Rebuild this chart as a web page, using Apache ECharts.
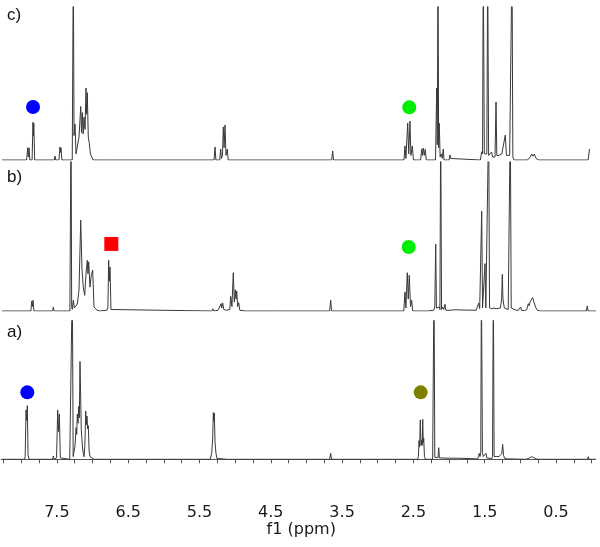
<!DOCTYPE html>
<html>
<head>
<meta charset="utf-8">
<title>1H NMR</title>
<script src="https://cdn.jsdelivr.net/npm/echarts@6/dist/echarts.min.js"></script>
<style>
html,body{margin:0;padding:0;background:#fff;}
#nmr-chart{width:600px;height:547px;}
</style>
</head>
<body>
<div id="nmr-chart"></div>
<script>
// traces: [ppm, intensity in % of panel height], >100 is clipped
var specC = [
    [8.27,0],[7.925,0],[7.910,8],[7.900,2],[7.891,8],[7.880,0],
    [7.848,0],[7.836,24.6],[7.830,16],[7.824,24],[7.812,0],
    [7.538,0],[7.527,2.6],[7.516,0],
    [7.472,0],[7.457,8.5],[7.450,5],[7.443,8],[7.430,0],
    [7.285,0],[7.270,130],[7.260,16],[7.246,23.5],[7.232,4],[7.214,3],[7.190,15],[7.166,35],[7.155,18],[7.143,31],[7.132,17],[7.120,28],[7.105,20],[7.092,47],[7.083,30],[7.074,44],[7.060,15],[7.046,11],[7.030,4],[7.012,2],[6.990,0],
    [6.770,0],[6.755,1],[6.740,0],
    [5.296,0],[5.282,8.5],[5.270,0],[5.216,0],[5.203,7.2],[5.192,1],[5.178,3],[5.166,21.6],[5.155,8],[5.142,22.9],[5.128,3],[5.110,7.2],[5.098,0],
    [3.646,0],[3.632,5.9],[3.620,0],
    [2.632,0],[2.618,9.2],[2.605,1],[2.592,2],[2.580,24.2],[2.565,4],[2.548,25.5],[2.535,3],[2.525,2],[2.515,9.2],[2.500,0],
    [2.398,0],[2.383,7.2],[2.372,3],[2.361,7.8],[2.347,3],[2.333,7],[2.320,0],
    [2.190,0],[2.173,47],[2.165,10],[2.155,130],[2.146,8],[2.137,24],[2.125,2],[2.109,4],[2.095,1],[2.081,7.2],[2.070,0],[2.000,0],[1.987,3.3],[1.975,1],[1.965,2],[1.950,0],
    [1.560,0],[1.542,5.4],[1.530,4],[1.520,130],[1.505,4],[1.482,4.6],[1.470,4],[1.458,130],[1.445,3],[1.420,2],[1.402,5.2],[1.390,2],[1.355,2],[1.341,37.9],[1.330,3],[1.300,3],[1.260,4],[1.235,4],[1.211,16.3],[1.195,3],[1.150,3],[1.117,130],[1.105,2],[1.090,0],
    [0.900,0],[0.860,2],[0.841,3.9],[0.822,2.5],[0.804,3.9],[0.780,1],[0.740,0],
    [0.050,0],[0.036,0.6],[0.030,7.2]
];
var specB = [
    [8.27,0],[7.865,0],[7.853,6.7],[7.845,3],[7.835,7.2],[7.822,0],
    [7.560,0],[7.550,2.7],[7.540,0],
    [7.318,0],[7.302,130],[7.293,3],[7.285,1],[7.270,7.2],[7.255,2],[7.214,4.7],[7.190,14],[7.166,61],[7.148,27.5],[7.130,16],[7.110,10.5],[7.092,25],[7.074,34],[7.064,25],[7.054,33],[7.036,16],[7.018,24],[6.998,27.5],[6.980,2.7],[6.942,0.7],[6.900,0],
    [6.800,0.5],[6.785,2],[6.774,34],[6.765,20],[6.755,29.5],[6.742,1],[6.720,0],
    [5.330,0],[5.313,1.5],[5.300,0],[5.240,0.5],[5.225,2],[5.212,1],[5.198,4.9],[5.188,2],[5.175,5.4],[5.160,1],[5.142,1.5],[5.125,0.5],[5.075,1],[5.062,9.8],[5.045,3],[5.026,25.7],[5.012,6],[4.998,14.3],[4.988,8],[4.978,13.4],[4.965,3],[4.950,5.6],[4.935,0.5],[4.920,0],
    [4.850,0],[4.838,0.8],[4.825,0],[4.470,0],[4.455,0.8],[4.440,0],[4.300,0],[4.287,0.8],[4.275,0],
    [3.675,0],[3.660,7.2],[3.648,0],
    [2.635,0],[2.618,12.8],[2.605,2],[2.586,25.7],[2.572,8],[2.558,24],[2.540,3],[2.524,7.2],[2.510,0],
    [2.395,0],[2.380,0.7],[2.365,0],[2.335,0],[2.320,0.7],[2.305,0],
    [2.215,0.5],[2.200,2.7],[2.187,44.8],[2.177,2],[2.165,1.5],[2.150,1.5],[2.137,2.7],[2.128,1],[2.117,130],[2.105,1],[2.089,2.7],[2.075,1],[2.057,4.5],[2.045,0.5],[1.970,0.5],[1.940,0.8],[1.890,0.8],[1.776,0.6],[1.620,0.5],
    [1.600,1],[1.584,5.4],[1.570,1.5],[1.555,2],[1.542,67],[1.530,2],[1.520,1.6],[1.508,2],[1.496,31.8],[1.484,2],[1.472,1.6],[1.458,2],[1.444,130],[1.432,2],[1.416,2.7],[1.400,1.5],[1.370,2],[1.356,2.7],[1.340,1.5],[1.318,1.6],[1.280,2],[1.262,8],[1.253,24.6],[1.244,8],[1.225,2],[1.170,1],[1.155,2],[1.141,130],[1.128,2],[1.107,1.5],[1.060,0.5],[1.028,0.5],[1.005,1],[0.995,2.7],[0.985,0.5],
    [0.940,0.3],[0.910,1],[0.888,4.9],[0.875,3.5],[0.865,6],[0.850,5],[0.827,9],[0.810,6],[0.795,4.9],[0.780,2],[0.762,0.5],[0.720,0],
    [0.075,0],[0.061,3.4],[0.050,0],[-0.07,0]
];
var specA = [
    [8.27,0],[7.955,0],[7.945,2],[7.933,35.6],[7.925,28],[7.915,38.7],[7.905,3],[7.890,0],
    [7.560,0],[7.550,2.4],[7.535,0],[7.505,1],[7.489,35.6],[7.478,20],[7.466,32.7],[7.452,1],[7.440,0],
    [7.320,0],[7.305,1],[7.284,130],[7.272,2],[7.260,2],[7.245,10],[7.232,22.8],[7.222,18],[7.214,32.7],[7.204,26],[7.194,38.2],[7.185,30],[7.176,70.5],[7.158,21],[7.138,6.7],[7.120,1.9],[7.108,10],[7.096,34.9],[7.087,25],[7.078,31.2],[7.069,22],[7.060,24.3],[7.048,6],[7.036,1.9],[7.012,0.5],[6.980,0],
    [6.840,0],[6.825,1.2],[6.810,0],
    [5.350,0],[5.340,1],[5.329,4.3],[5.315,15],[5.306,33.7],[5.299,28],[5.292,33.2],[5.282,12],[5.269,4.3],[5.255,0.5],[5.225,0.5],[5.212,1.9],[5.200,0],[5.115,0],[5.105,1.2],[5.095,0],
    [3.675,0],[3.660,4.3],[3.648,0],
    [2.440,0],[2.430,2],[2.421,13.5],[2.413,9],[2.403,28.4],[2.393,10],[2.383,14],[2.376,10],[2.369,28.9],[2.362,12],[2.355,15.2],[2.345,2],[2.330,0],
    [2.230,0],[2.221,1],[2.211,130],[2.200,1.5],[2.180,0.7],[2.155,1],[2.145,8.4],[2.135,1],[2.120,0.3],[2.000,0.8],[1.857,0.8],
    [1.600,0.3],[1.585,2],[1.576,4.3],[1.566,2],[1.555,5],[1.546,130],[1.540,130],[1.532,5],[1.520,2],[1.510,2],[1.495,2],[1.482,4.3],[1.470,1],[1.458,0.7],[1.400,0.5],[1.390,2],[1.379,130],[1.368,2],[1.350,0.7],[1.330,2],[1.300,2],[1.260,4],[1.248,10.8],[1.236,3],[1.220,0.7],[1.180,0.3],
    [0.920,0],[0.880,0.8],[0.860,1.5],[0.841,1.9],[0.820,1.2],[0.780,0.3],[0.740,0],
    [0.060,0],[0.047,1.9],[0.035,0],[-0.07,0]
];

// annotation markers, same units as the traces
var blueDots = [[7.835,34.6]];
var greenDotsC = [[2.558,34.4]];
var redSquares = [[6.737,45]];
var greenDotsB = [[2.566,43]];
var blueDotsA = [[7.915,48.3]];
var oliveDots = [[2.398,48.3]];

var panelNames = ['c)','b)','a)'];
var labelValues = [7.5,6.5,5.5,4.5,3.5,2.5,1.5,0.5];
var tickValues = [];
for (var t = 0; t <= 33; t++) tickValues.push(t * 0.25);

var panels = [
    {top:7, height:153},
    {top:162, height:149},
    {top:320.7, height:138.6}
];
var lineColor = '#383838';

var grids = [], xAxes = [], yAxes = [];
panels.forEach(function(p, i){
    grids.push({left:1.3, right:4.8, top:p.top, height:p.height});
    var last = i === panels.length - 1;
    xAxes.push({
        gridIndex:i,
        type:'value',
        inverse:true,
        min:-0.05,
        max:8.28,
        show:last,
        offset:last ? 33.4 : 0,
        name:last ? 'f1 (ppm)' : '',
        nameLocation:'middle',
        nameGap:28,
        nameTextStyle:{fontFamily:'DejaVu Sans', fontSize:16, color:'#1a1a1a', padding:[0,0,0,6]},
        axisLine:{lineStyle:{color:'#555', width:1}},
        axisTick:{show:true, length:4, lineStyle:{color:'#555'}, customValues:tickValues},
        axisLabel:{
            customValues:labelValues,
            margin:12,
            fontFamily:'DejaVu Sans',
            fontSize:16,
            color:'#1a1a1a',
            formatter:function(v){ return v.toFixed(1); }
        },
        splitLine:{show:false}
    });
    yAxes.push({gridIndex:i, type:'value', min:0, max:100, show:false});
});

function trace(data, i){
    return {
        type:'line',
        xAxisIndex:i,
        yAxisIndex:i,
        data:data,
        showSymbol:false,
        silent:true,
        lineStyle:{color:lineColor, width:1},
        z:2
    };
}
function marker(data, i, symbol, color){
    return {
        type:'scatter',
        xAxisIndex:i,
        yAxisIndex:i,
        data:data,
        symbol:symbol,
        symbolSize:14,
        silent:true,
        itemStyle:{color:color, opacity:1},
        z:3
    };
}

var option = {
    animation:false,
    backgroundColor:'#fff',
    grid:grids,
    xAxis:xAxes,
    yAxis:yAxes,
    graphic:panelNames.map(function(n, i){
        return {
            type:'text',
            left:7,
            top:[7, 169, 324][i],
            style:{text:n, font:'17px "Liberation Sans", Arial, sans-serif', fill:'#111'}
        };
    }),
    series:[
        trace(specC, 0),
        trace(specB, 1),
        trace(specA, 2),
        marker(blueDots, 0, 'circle', '#0000ff'),
        marker(greenDotsC, 0, 'circle', '#00ee00'),
        marker(redSquares, 1, 'rect', '#ff0000'),
        marker(greenDotsB, 1, 'circle', '#00ee00'),
        marker(blueDotsA, 2, 'circle', '#0000ff'),
        marker(oliveDots, 2, 'circle', '#808000')
    ]
};

var myChart = echarts.init(document.getElementById('nmr-chart'));
myChart.setOption(option);
</script>
</body>
</html>
